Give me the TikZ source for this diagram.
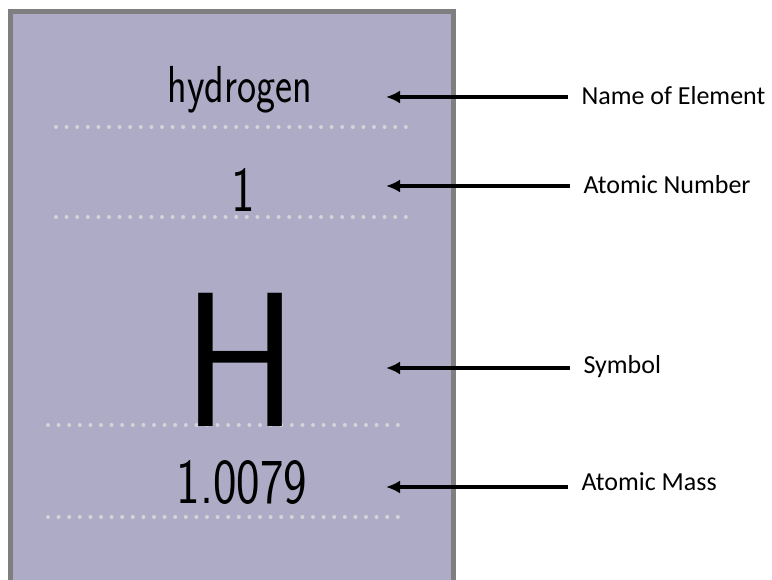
\documentclass[tikz,border=0pt]{standalone}
\usepackage{fontspec}
\setmainfont{Carlito}
\usetikzlibrary{arrows.meta}
\usetikzlibrary{positioning}
\definecolor{cardfill}{HTML}{AEABC6}
\definecolor{cardedge}{HTML}{7F7F7F}
\definecolor{dotgray}{HTML}{D3D3D8}
\tikzset{>=latex}
\tikzstyle{lbl} = [draw=none, anchor=west, font=\fontsize{26}{29}\selectfont]
\tikzstyle{pointer} = [-{Latex[length=14pt,width=13pt]}, line width=3.6pt, black]
\tikzstyle{dotrow} = [dotgray, line width=4pt, line cap=round, dash pattern=on 0pt off 10.6pt]
\tikzstyle{hand} = [draw=none, anchor=base, inner sep=0, transform shape, xscale=0.78]

\begin{document}
\begin{tikzpicture}[x=1pt, y=-1pt]
\useasboundingbox (0,0) rectangle (772,580);
\draw [fill=cardfill, draw=cardedge, line width=5pt] (10,12) rectangle (453,600);
% dotted rules on the card
\draw [dotrow] (56,127) -- (412,127);
\draw [dotrow] (56,217) -- (412,217);
\draw [dotrow] (48,425) -- (405,425);
\draw [dotrow] (48,517) -- (405,517);
% card text
\node [hand, font=\sffamily\fontsize{52}{52}\selectfont] (name) at (240,103) {hydrogen};
\node [hand, font=\sffamily\fontsize{64}{64}\selectfont] (num) at (243,212) {1};
\node [hand, xscale=1.15, font=\sffamily\fontsize{192}{150}\selectfont] (sym) at (241,426) {H};
\node [hand, font=\sffamily\fontsize{64}{64}\selectfont] (mass) at (242,503) {1.0079};
% labels and arrows
\node [lbl] (nameL) at (578,96) {Name of Element};
\node [lbl] (numL) at (580,185) {Atomic Number};
\node [lbl] (symL) at (580,367) {Symbol};
\node [lbl] (massL) at (578,482) {Atomic Mass};
\coordinate (nameP) at (386,97);
\coordinate (numP) at (386,186);
\coordinate (symP) at (386,368);
\coordinate (massP) at (386,487);
\draw [pointer] (nameL.west |- nameP) ++(-10,0) coordinate (nameS) (nameS) -- (nameP);
\draw [pointer] (numL.west |- numP) ++(-10,0) coordinate (numS) (numS) -- (numP);
\draw [pointer] (symL.west |- symP) ++(-10,0) coordinate (symS) (symS) -- (symP);
\draw [pointer] (massL.west |- massP) ++(-10,0) coordinate (massS) (massS) -- (massP);
\end{tikzpicture}
\end{document}
